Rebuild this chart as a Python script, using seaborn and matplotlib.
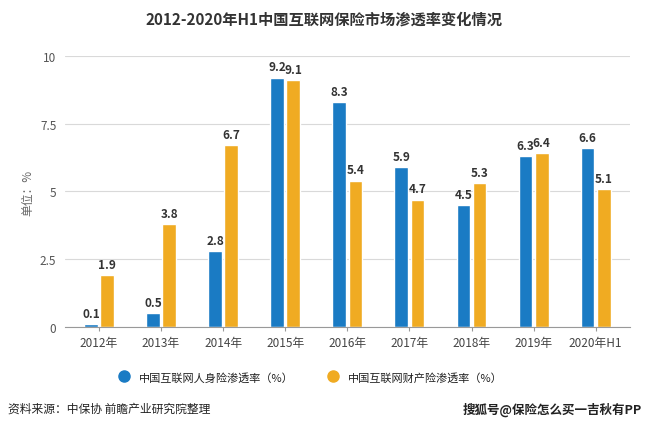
import pandas as pd
import seaborn as sns
import matplotlib.pyplot as plt
from matplotlib.lines import Line2D

# data
years = ["2012年", "2013年", "2014年", "2015年", "2016年", "2017年", "2018年", "2019年", "2020年H1"]
life = [0.1, 0.5, 2.8, 9.2, 8.3, 5.9, 4.5, 6.3, 6.6]
prop = [1.9, 3.8, 6.7, 9.1, 5.4, 4.7, 5.3, 6.4, 5.1]
names = ["中国互联网人身险渗透率（%）", "中国互联网财产险渗透率（%）"]
colors = ["#1a7bc4", "#f0ab22"]

df = pd.DataFrame({
    "year": years * 2,
    "value": life + prop,
    "type": [names[0]] * len(years) + [names[1]] * len(years),
})

sns.set_style("white")
plt.rcParams['font.family'] = ['Noto Sans CJK SC', 'DejaVu Sans']

fig = plt.figure(figsize=(6.48, 4.31), dpi=100)
ax = fig.add_axes([0.100, 0.239, 0.872, 0.629])

sns.barplot(data=df, x="year", y="value", hue="type", palette=colors,
            width=0.52, gap=0.15, ax=ax, legend=False, saturation=1)

for cont in ax.containers:
    ax.bar_label(cont, fmt="%.1f", padding=3, fontsize=8.5, fontweight="bold", color="#333333")

ax.set_ylim(0, 10)
ax.set_yticks([0, 2.5, 5, 7.5, 10])
ax.set_yticklabels(["0", "2.5", "5", "7.5", "10"])
ax.yaxis.grid(True, color="#d9d9d9", linewidth=0.8)
ax.set_axisbelow(True)
for s in ["top", "right", "left"]:
    ax.spines[s].set_visible(False)
ax.spines["bottom"].set_color("#999999")
ax.tick_params(axis="y", length=0, labelsize=8.5, colors="#555555", pad=6)
ax.tick_params(axis="x", length=3, color="#999999", labelsize=8.5, colors="#444444", bottom=True)
ax.set_xlabel("")
ax.set_ylabel("单位：%", fontsize=8.5, color="#666666", labelpad=4)
ax.set_xlim(-0.55, 8.55)

fig.text(0.5, 0.954, "2012-2020年H1中国互联网保险市场渗透率变化情况", ha="center", va="center",
         fontsize=11, fontweight="bold", color="#333333")

handles = [Line2D([], [], marker="o", linestyle="", markersize=8, color=c) for c in colors]
fig.legend(handles, names, loc="center", bbox_to_anchor=(0.475, 0.123), ncol=2, frameon=False,
           fontsize=8, handletextpad=0.4, columnspacing=2.5, labelcolor="#222222")

fig.text(0.012, 0.05, "资料来源：中保协 前瞻产业研究院整理", fontsize=8.5, color="#222222", va="center")
fig.text(0.99, 0.05, "搜狐号@保险怎么买一吉秋有PP", fontsize=9, color="#222222", va="center", ha="right",
         fontweight="bold")

fig.savefig("out.png", dpi=100)
